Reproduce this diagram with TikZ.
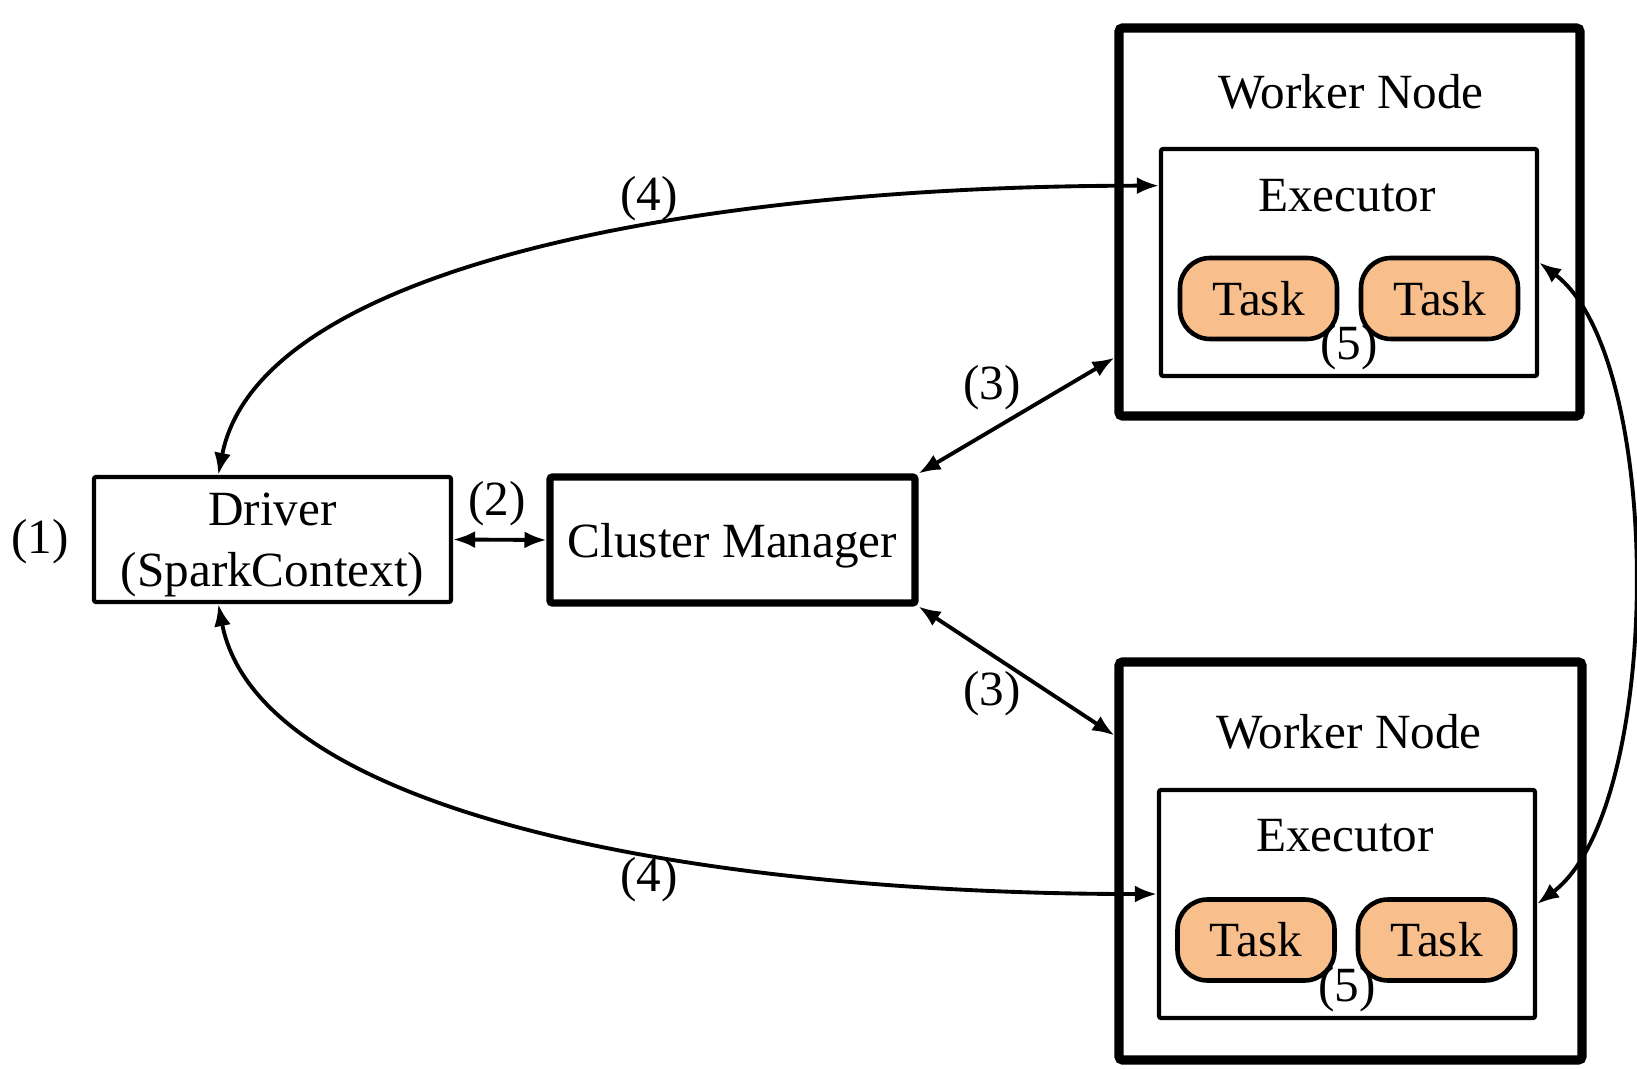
\documentclass[tikz,border=0pt]{standalone}
\usepackage{fontspec}
\setmainfont{Liberation Serif}
\usetikzlibrary{arrows.meta, positioning}
\definecolor{taskorange}{RGB}{248,191,141}

\begin{document}
\begin{tikzpicture}[
      every node/.style = {font=\fontsize{14}{17.5}\selectfont},
      box/.style = {draw, line width=1.2pt, align=center, inner sep=0pt, rounded corners=0.6pt,
        text depth=0pt},
      worker/.style = {draw, line width=2.6pt, rounded corners=1pt,
        minimum width=4.61cm, minimum height=3.88cm},
      executor/.style = {draw, line width=1.2pt, rounded corners=0.6pt,
        minimum width=3.76cm, minimum height=2.27cm},
      task/.style = {draw, line width=1.3pt, rounded corners=0.3cm, fill=taskorange,
        minimum width=1.57cm, minimum height=0.81cm},
      link/.style = {line width=1.1pt,
        {Latex[length=2.2mm,width=1.7mm]}-{Latex[length=2.2mm,width=1.7mm]}},
      tag/.style = {inner sep=0pt}
    ]
      \useasboundingbox (0,0) rectangle (16.37,10.68);

      % driver and cluster manager
      \node[box, minimum width=3.57cm, minimum height=1.25cm] (driver) at (2.725,5.285)
        {Driver\\(SparkContext)};
      \node[box, line width=2pt, minimum width=3.65cm, minimum height=1.26cm] (cm) at (7.325,5.28)
        {Cluster Manager};

      % first worker
      \node[worker] (w1) at (13.495,8.46) {};
      \node[executor] (e1) at (13.49,8.055) {};
      \node[tag] (w1title) at (13.51,9.76) {Worker Node};
      \node[tag] (e1title) at (13.47,8.72) {Executor};
      \node[task] (t1a) at (12.585,7.695) {Task};
      \node[task] (t1b) at (14.395,7.695) {Task};

      % second worker
      \node[worker] (w2) at (13.505,2.07) [minimum height=3.98cm, minimum width=4.63cm] {};
      \node[executor] (e2) at (13.47,1.64) [minimum height=2.28cm] {};
      \node[tag] (w2title) at (13.49,3.36) {Worker Node};
      \node[tag] (e2title) at (13.45,2.32) {Executor};
      \node[task] (t2a) at (12.56,1.28) {Task};
      \node[task] (t2b) at (14.365,1.28) {Task};

      % connectors
      \draw[link] (driver.east) -- (cm.west);
      \draw[link] (cm.north east) -- (w1.210);
      \draw[link] (cm.south east) -- (w2.152);
      \draw[link] (driver.130) to[out=79, in=180, out distance=2.13cm, in distance=4.61cm] (e1.158);
      \draw[link] (driver.230) to[out=-79, in=180, out distance=2.13cm, in distance=4.61cm] (e2.177);
      \draw[link] (e1.east) to[out=-37, in=37, looseness=0.63] (e2.east);

      % step numbers
      \node[tag] (s1) at (0.40,5.26) {(1)};
      \node[tag] (s2) at (4.97,5.64) {(2)};
      \node[tag] (s3a) at (9.92,6.80) {(3)};
      \node[tag] (s3b) at (9.92,3.74) {(3)};
      \node[tag] (s4a) at (6.49,8.69) {(4)};
      \node[tag] (s4b) at (6.49,1.88) {(4)};
      \node[tag] (s5a) at (13.49,7.20) {(5)};
      \node[tag] (s5b) at (13.47,0.78) {(5)};
    \end{tikzpicture}
\end{document}
